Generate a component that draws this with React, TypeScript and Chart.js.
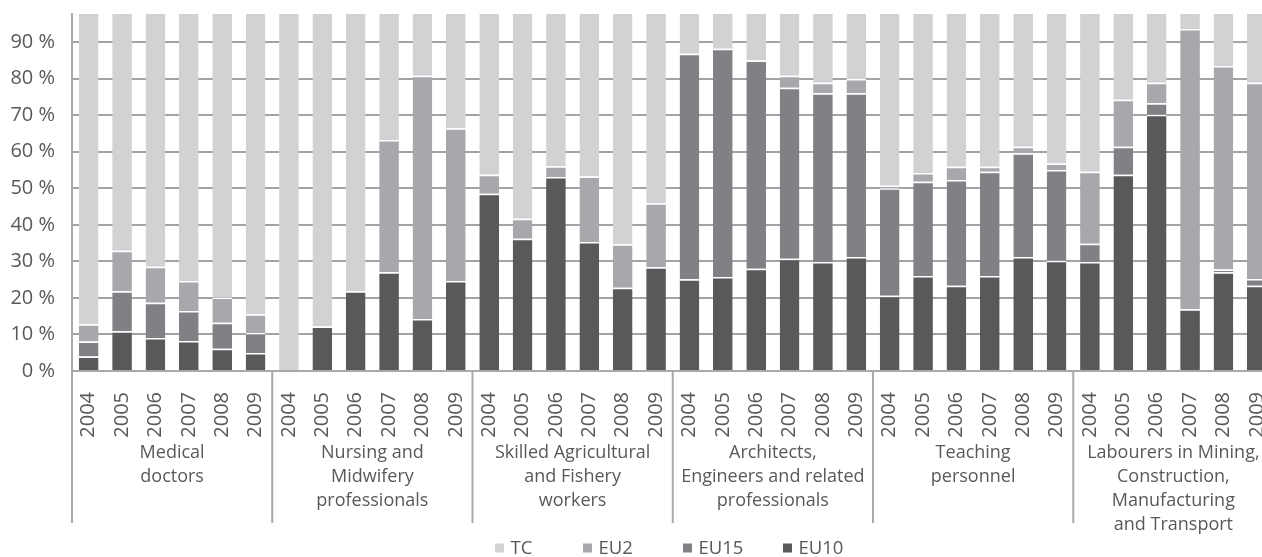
import React, { useEffect, useRef } from "react";
import { Chart, registerables } from "chart.js";

Chart.register(...registerables);

const YEARS = ["2004", "2005", "2006", "2007", "2008", "2009"];
const GROUPS: string[][] = [
  ["Medical", "doctors"],
  ["Nursing and", "Midwifery", "professionals"],
  ["Skilled Agricultural", "and Fishery", "workers"],
  ["Architects,", "Engineers and related", "professionals"],
  ["Teaching", "personnel"],
  ["Labourers in Mining,", "Construction,", "Manufacturing", "and Transport"],
];

// segment shares (%), per group x year
const EU10 = [
  4.0, 10.9, 9.0, 8.2, 6.1, 4.9,
  0, 12.2, 21.8, 27.0, 14.2, 24.6,
  48.5, 36.2, 53.1, 35.3, 22.8, 28.4,
  25.1, 25.7, 28.0, 30.7, 29.8, 31.2,
  20.6, 26.0, 23.3, 26.0, 31.2, 30.2,
  29.8, 53.7, 70.1, 16.9, 27.0, 23.3,
];
const EU15 = [
  4.1, 10.9, 9.7, 8.2, 7.1, 5.5,
  0, 0, 0, 0, 0, 0,
  0, 0, 0, 0, 0, 0,
  61.7, 62.5, 57.0, 46.8, 46.2, 44.8,
  29.4, 25.8, 29.0, 28.5, 28.4, 24.8,
  5.0, 7.7, 3.2, 0, 0.8, 1.9,
];
const EU2 = [
  4.7, 11.1, 9.8, 8.2, 6.9, 5.1,
  0, 0, 0, 36.2, 66.6, 41.8,
  5.2, 5.5, 2.9, 17.9, 11.9, 17.5,
  0, 0, 0, 3.3, 2.9, 3.9,
  0.7, 2.4, 3.6, 1.4, 1.8, 1.8,
  19.7, 12.8, 5.6, 76.7, 55.7, 53.7,
];
const TC = [
  87.2, 67.1, 71.5, 75.4, 79.9, 84.5,
  100, 87.8, 78.2, 36.8, 19.2, 33.6,
  46.3, 58.3, 44.0, 46.8, 65.3, 54.1,
  13.2, 11.8, 15.0, 19.2, 21.1, 20.1,
  49.3, 45.8, 44.1, 44.1, 38.6, 43.2,
  45.5, 25.8, 21.1, 6.4, 16.5, 21.1,
];
const Y_TICKS = [0, 10, 20, 30, 40, 50, 60, 70, 80, 90];

const SERIES = [
  { label: "EU10", data: EU10, color: "#58595b" },
  { label: "EU15", data: EU15, color: "#808184" },
  { label: "EU2", data: EU2, color: "#a7a8ab" },
  { label: "TC", data: TC, color: "#d1d2d4" },
];

const FONT = "'Open Sans', sans-serif";
const TEXT = "#58595b";
const AXIS = "#a8a9ab";
const GRID = "#a2a3a5";

const groupPlugin = {
  id: "groupLabels",
  afterDraw(chart: any) {
    const ctx = chart.ctx;
    const x = chart.scales.x;
    const area = chart.chartArea;
    const per = YEARS.length;
    const step = x.getPixelForValue(1) - x.getPixelForValue(0);
    ctx.save();
    ctx.strokeStyle = AXIS;
    ctx.lineWidth = 2;
    for (let g = 0; g <= GROUPS.length; g++) {
      const bx = x.getPixelForValue(g * per) - step / 2;
      ctx.beginPath();
      ctx.moveTo(bx, area.bottom);
      ctx.lineTo(bx, area.bottom + 152);
      ctx.stroke();
    }
    ctx.fillStyle = TEXT;
    ctx.font = `18px ${FONT}`;
    ctx.textAlign = "center";
    ctx.textBaseline = "alphabetic";
    GROUPS.forEach((lines, g) => {
      const cx = (x.getPixelForValue(g * per) + x.getPixelForValue(g * per + per - 1)) / 2;
      lines.forEach((ln, i) => {
        ctx.fillText(ln, cx, area.bottom + 87 + i * 24);
      });
    });
    // legend
    const legendX = [495, 583, 683, 783];
    const legendY = 548;
    ctx.font = `18.5px ${FONT}`;
    ctx.textAlign = "left";
    ctx.textBaseline = "middle";
    const order = [...SERIES].reverse();
    order.forEach((s, i) => {
      ctx.fillStyle = s.color;
      ctx.fillRect(legendX[i], legendY - 4.5, 9, 9);
      ctx.fillStyle = TEXT;
      ctx.fillText(s.label, legendX[i] + 15.5, legendY + 1);
    });
    ctx.restore();
  },
};

export default function App() {
  const ref = useRef<HTMLCanvasElement | null>(null);
  useEffect(() => {
    if (!ref.current) return;
    const labels: string[] = [];
    GROUPS.forEach(() => YEARS.forEach((y) => labels.push(y)));
    const chart = new Chart(ref.current, {
      type: "bar",
      data: {
        labels,
        datasets: SERIES.map((s) => ({
          label: s.label,
          data: s.data,
          backgroundColor: s.color,
          borderColor: "#ffffff",
          borderWidth: { top: 1.5, bottom: 0, left: 0, right: 0 },
          borderSkipped: false,
          barPercentage: 0.59,
          categoryPercentage: 1,
          clip: 0,
        })) as any,
      },
      options: {
        animation: false,
        responsive: true,
        maintainAspectRatio: false,
        layout: { padding: { top: 14, right: 16.5, left: 0, bottom: 0 } },
        plugins: {
          legend: { display: false },
          tooltip: { enabled: false },
        },
        scales: {
          x: {
            stacked: true,
            grid: { display: false },
            border: { display: true, color: AXIS, width: 2 },
            ticks: {
              minRotation: 90,
              maxRotation: 90,
              autoSkip: false,
              padding: 13,
              color: TEXT,
              font: { family: FONT, size: 20 },
            },
            afterFit: (s: any) => {
              s.height = 186;
              s.paddingLeft = 0;
              s.paddingRight = 0;
            },
          },
          y: {
            stacked: true,
            min: 0,
            max: 97.7,
            ticks: {
              stepSize: 10,
              padding: 17,
              color: TEXT,
              font: { family: FONT, size: 20 },
              callback: (v: any) => `${v} %`,
            },
            afterBuildTicks: (s: any) => {
              s.ticks = Y_TICKS.map((v) => ({ value: v }));
            },
            grid: { color: GRID, lineWidth: 2, drawTicks: false },
            border: { display: true, color: AXIS, width: 2 },
            afterFit: (s: any) => {
              s.width = 72;
              s.paddingTop = 0;
              s.paddingBottom = 0;
            },
          },
        },
      },
      plugins: [groupPlugin],
    });
    return () => chart.destroy();
  }, []);
  return (
    <div style={{ position: "absolute", left: 0, top: 0, width: 1262, height: 557, overflow: "hidden", background: "#fff" }}>
      <div style={{ position: "relative", width: 1290, height: 557 }}>
        <canvas ref={ref} />
      </div>
    </div>
  );
}
